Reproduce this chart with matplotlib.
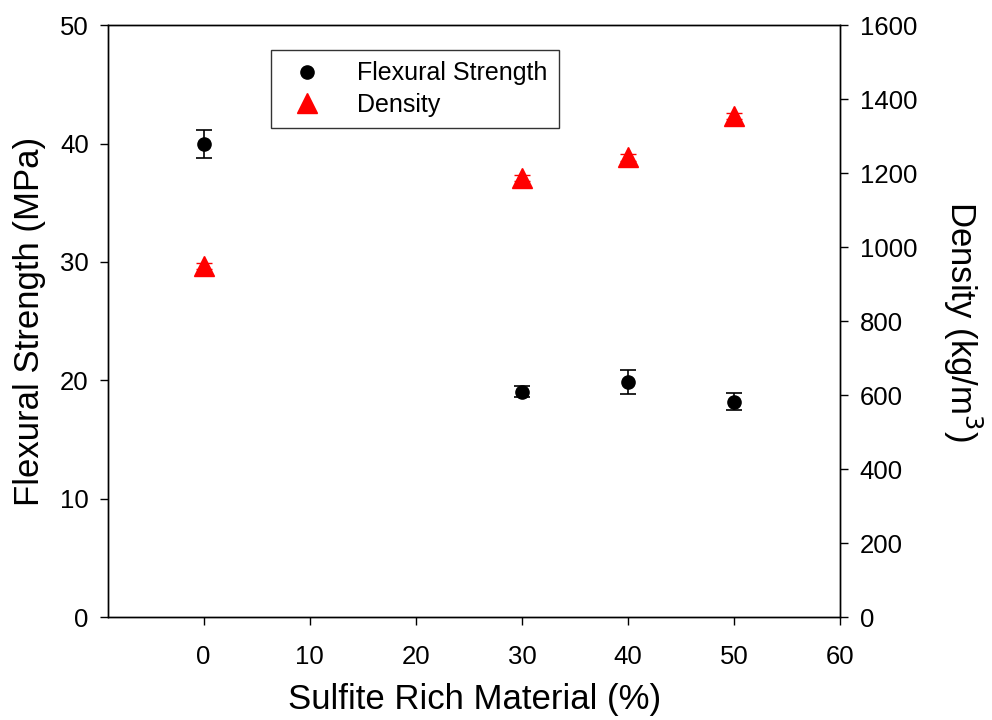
import matplotlib
matplotlib.use("Agg")
from matplotlib import pyplot as plt
import numpy as np

plt.rcParams['font.family'] = ['Liberation Sans', 'DejaVu Sans']

# values
sulfite = [0, 30, 40, 50]
flex_strength = [39.95, 19.05, 19.85, 18.2]
flex_err = [1.2, 0.5, 1.0, 0.7]
density = [950, 1188, 1243, 1354]
density_err = [8, 8, 10, 8]

x_ticks = [0, 10, 20, 30, 40, 50, 60]
left_ticks = [0, 10, 20, 30, 40, 50]
right_ticks = [0, 200, 400, 600, 800, 1000, 1200, 1400, 1600]

fig = plt.figure(figsize=(9.92, 7.2), dpi=100)
ax = fig.add_axes([0.109, 0.143, 0.738, 0.822])
ax2 = ax.twinx()

h1 = ax.errorbar(sulfite, flex_strength, yerr=flex_err, fmt='o', color='black',
                 markersize=9.5, capsize=6, elinewidth=1.2, capthick=1.2, zorder=3)
h2 = ax2.errorbar(sulfite, density, yerr=density_err, fmt='^', color='red',
                  markersize=14, capsize=6, elinewidth=1, capthick=1, zorder=3)

ax.set_xlim(-9, 60)
ax.set_ylim(0, 50)
ax2.set_ylim(0, 1600)
ax.set_xticks(x_ticks)
ax.set_yticks(left_ticks)
ax2.set_yticks(right_ticks)

for a in (ax, ax2):
    a.tick_params(direction='out', length=6, width=1, labelsize=18.5, pad=8)
    for s in a.spines.values():
        s.set_linewidth(1)
ax.tick_params(axis='x', pad=14)

ax.set_xlabel('Sulfite Rich Material (%)', fontsize=25, labelpad=10)
ax.set_ylabel('Flexural Strength (MPa)', fontsize=25, labelpad=10)
ax2.set_ylabel('Density (kg/m$^3$)', fontsize=25, rotation=270, labelpad=48)

leg = fig.legend([h1[0], h2[0]], ['Flexural Strength', 'Density'],
                 loc='upper left', bbox_to_anchor=(271 / 992, 1 - 50 / 720),
                 borderaxespad=0, fontsize=18, frameon=True, fancybox=False,
                 edgecolor='black', handletextpad=1.0, borderpad=0.45,
                 labelspacing=0.3, handlelength=2.0)
leg.get_frame().set_linewidth(1)

fig.savefig('out.png', dpi=100)
